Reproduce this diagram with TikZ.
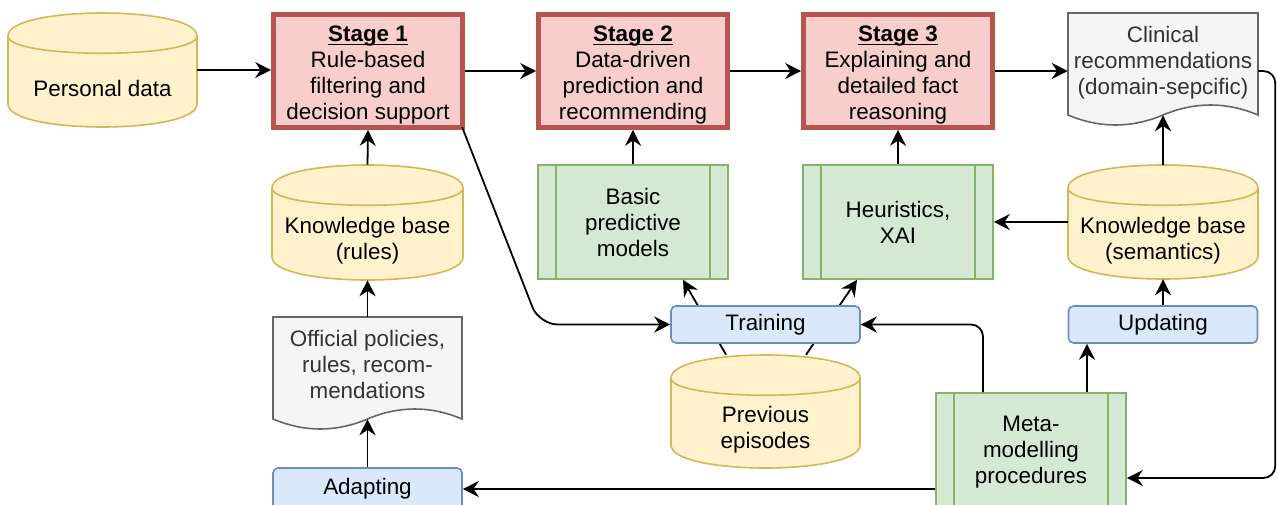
\documentclass[tikz,border=0pt]{standalone}
\usepackage{fontspec}
\setmainfont{Liberation Sans}
\usetikzlibrary{arrows.meta,calc}
\definecolor{redf}{HTML}{F8CECC}
\definecolor{redd}{HTML}{B85450}
\definecolor{greenf}{HTML}{D5E8D4}
\definecolor{greend}{HTML}{82B366}
\definecolor{bluef}{HTML}{DAE8FC}
\definecolor{blued}{HTML}{6C8EBF}
\definecolor{yelf}{HTML}{FFF2CC}
\definecolor{yeld}{HTML}{D6B656}
\definecolor{grayf}{HTML}{F5F5F5}
\definecolor{grayd}{HTML}{666666}
\definecolor{grayt}{HTML}{333333}
\tikzset{
  every node/.style={font=\fontsize{16.8}{19.5}\selectfont, align=center, inner sep=0pt},
  stage/.style={draw=redd, fill=redf, line width=3.5pt, minimum width=141.75pt, minimum height=84.75pt},
  proc/.style={draw=greend, fill=greenf, line width=1.2pt, minimum width=142.5pt, minimum height=85.5pt},
  rbox/.style={draw=blued, fill=bluef, line width=1.2pt, rounded corners=3.75pt, minimum width=141.75pt, minimum height=27.75pt},
  cylsty/.style={draw=yeld, fill=yelf, line width=1.2pt},
  docsty/.style={draw=grayd, fill=grayf, line width=1.2pt},
  ghost/.style={draw=none, fill=none},
  arr/.style={-{Stealth[length=12pt,width=12pt,inset=4pt]}, line width=1.35pt, black}
}
% underlined bold title without changing line spacing
\newcommand\stagetitle[1]{\setbox0\hbox{\textbf{#1}}\rlap{\rule[-2.6pt]{\wd0}{1pt}}\box0}
% stage box: name, x, y, title, text
\newcommand\mkstage[5]{%
  \node[stage] (#1) at (#2,#3) {};
  \node[yshift=-3pt] (#1-t) at (#1.center) {\stagetitle{#4}\\#5};
}
% cylinder: name, x1, y1, x2, y2, text
\newcommand\mkcyl[6]{%
  \filldraw[cylsty] (#2,#3+23) .. controls (#2,#3-7.67) and (#4,#3-7.67) .. (#4,#3+23)
     -- (#4,#5-23) .. controls (#4,#5+7.67) and (#2,#5+7.67) .. (#2,#5-23) -- cycle;
  \draw[cylsty,fill=none] (#2,#3+23) .. controls (#2,#3+46) and (#4,#3+46) .. (#4,#3+23);
  \node[ghost, minimum width={(#4-#2)*0.75pt}, minimum height={(#5-#3)*0.75pt}] (#1) at ({(#2+#4)/2},{(#3+#5)/2}) {};
  \node[yshift=-14pt] (#1-t) at (#1.center) {#6};
}
% document: name, x1, y1, x2, text-centre offset, text
\newcommand\mkdoc[6]{%
  \filldraw[docsty] (#2,#3) -- (#4,#3) -- (#4,#3+102)
     .. controls ({#4-(#4-#2)/6},#3+88.67) and ({(#2+#4)/2+(#4-#2)/6},#3+88.67) .. ({(#2+#4)/2},#3+102)
     .. controls ({(#2+#4)/2-(#4-#2)/6},#3+115.33) and ({#2+(#4-#2)/6},#3+115.33) .. (#2,#3+102) -- cycle;
  \node[ghost, text=grayt, minimum width={(#4-#2)*0.75pt}, minimum height={(2*#5)*0.75pt}] (#1) at ({(#2+#4)/2},#3+#5) {#6};
}
\newcommand\proclines[1]{%
  \draw[greend, line width=1.2pt] ([xshift=14.25pt]#1.north west) -- ([xshift=14.25pt]#1.south west);
  \draw[greend, line width=1.2pt] ([xshift=-14.25pt]#1.north east) -- ([xshift=-14.25pt]#1.south east);
}
\begin{document}
\begin{tikzpicture}[x=0.75pt, y=-0.75pt]
\useasboundingbox (0,0) rectangle (1277,504);

% top row
\mkcyl{pd}{8}{13}{197}{127}{Personal data}
\mkstage{s1}{368}{71}{Stage 1}{Rule-based\\filtering and\\decision support}
\mkstage{s2}{633}{71}{Stage 2}{Data-driven\\prediction and\\recommending}
\mkstage{s3}{898}{71}{Stage 3}{Explaining and\\detailed fact\\reasoning}
\mkdoc{clin}{1068}{13}{1258}{50}{Clinical\\recommendations\\(domain-sepcific)}

% second row
\mkcyl{kbr}{272}{165}{463}{280}{Knowledge base\\(rules)}
\node[proc] (bpm) at (633,222) {Basic\\predictive\\models};
\proclines{bpm}
\node[proc] (heur) at (898,222) {Heuristics,\\XAI};
\proclines{heur}
\mkcyl{kbs}{1068}{165}{1258}{279}{Knowledge base\\(semantics)}

% lower part
\mkdoc{off}{273}{317}{462}{47}{Official policies,\\rules, recom-\\mendations}
\mkcyl{prev}{671}{355}{860}{468}{Previous\\episodes}
\draw[arr] ([xshift=-29.6pt]prev.north) -- ([xshift=37.5pt]bpm.south);
\draw[arr] ([xshift=30.4pt]prev.north) -- ([xshift=-30.75pt]heur.south);
\node[rbox] (trn) at (765.5,324.5) {Training};
\node[rbox] (upd) at (1163,324.5) {Updating};
\node[rbox, minimum height=31.5pt] (adp) at (367.5,489) {Adapting};
\node[proc, minimum height=88.5pt] (meta) at (1031,452) {Meta-\\modelling\\procedures};
\proclines{meta}

% connectors
\draw[arr] (pd.east) -- (pd.east -| s1.west);
\draw[arr] (s1.east) -- (s2.west);
\draw[arr] (s2.east) -- (s3.west);
\draw[arr] (s3.east) -- (s3.east -| clin.west);
\draw[arr] (kbr.north) -- (s1.south);
\draw[arr] (off.north) -- (kbr.south);
\draw[arr] (adp.north) -- ([yshift=-6pt]off.south);
\draw[arr] (bpm.north) -- (s2.south);
\draw[arr] (heur.north) -- (s3.south);
\draw[arr] (kbs.north) -- ([yshift=-1.5pt]clin.south);
\draw[arr] (kbs.west) -- (heur.east);
\draw[arr] (upd.north) -- (kbs.south);
\draw[arr] ([xshift=42pt]meta.north) -- ([xshift=42pt]meta.north |- upd.south);
\draw[arr, rounded corners=9pt] ([xshift=-36pt]meta.north) |- (trn.east);
\draw[arr] (adp.east -| meta.west) -- (adp.east);
\draw[arr, rounded corners=9pt] (s3.east -| clin.east) -- ++(17,0) |- ([yshift=-19.5pt]meta.east);
\draw[arr, rounded corners=14pt] ([xshift=-2pt,yshift=2pt]s1.south east) -- ([xshift=-98.25pt]trn.west) -- (trn.west);
\end{tikzpicture}
\end{document}
